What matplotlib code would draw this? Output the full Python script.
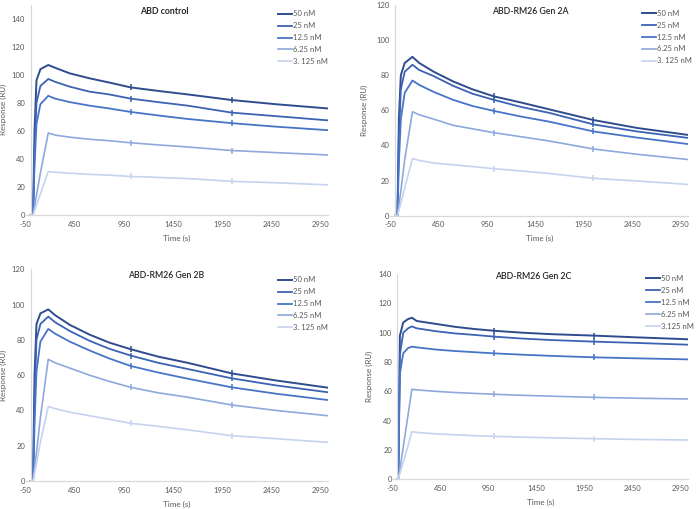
import matplotlib.pyplot as plt

plt.rcParams['axes.unicode_minus'] = False

# ---------------------------------------------------------
# data (time in s, response in RU)
# ---------------------------------------------------------
time_ab = [0, 25, 40, 60, 100, 180, 250, 400, 600, 800, 1020, 1300, 1600, 2050, 2500, 3030]
time_2c = [0, 8, 25, 60, 110, 150, 200, 400, 600, 800, 1010, 1300, 1600, 2050, 2500, 3030]

labels = ['50 nM', '25 nM', '12.5 nM', '6.25 nM', '3. 125 nM']
labels_2c = ['50 nM', '25 nM', '12.5 nM', '6.25 nM', '3.125 nM']

ctrl_50 = [0, 0, 60, 96, 104, 107, 105, 101, 97.5, 94.5, 91, 88.5, 86, 82, 79, 76]
ctrl_25 = [0, 0, 45, 80, 92, 97, 95, 91.5, 88, 86, 83, 80.5, 78, 73, 70.5, 67.5]
ctrl_12 = [0, 0, 35, 65, 79, 85, 83, 80.5, 78, 76, 73.5, 71, 68.5, 65.5, 63, 60.5]
ctrl_6 = [0, 0, 6, 14, 30, 58.5, 57, 55.5, 54, 53, 51.5, 50, 48.5, 46, 44.5, 42.8]
ctrl_3 = [0, 0, 3, 7, 15, 31, 30.5, 29.8, 29, 28.4, 27.5, 26.8, 26, 24, 23, 21.5]

g2a_50 = [0, 0, 55, 80, 87, 90.5, 87, 82, 76.5, 72, 68, 64.5, 60.5, 54.5, 50, 46]
g2a_25 = [0, 0, 45, 72, 82, 86, 83, 79.5, 74, 69.5, 66, 62, 58.5, 52, 48, 44.3]
g2a_12 = [0, 0, 30, 55, 70, 77, 74.5, 70.5, 66, 62.5, 59.7, 56.5, 53.5, 48, 44.5, 40.8]
g2a_6 = [0, 0, 6, 14, 32, 59.2, 57.5, 55, 51.5, 49.5, 47.3, 45, 42.5, 38, 35, 32]
g2a_3 = [0, 0, 3, 7, 16, 32.5, 31.5, 30, 29, 28, 26.8, 25.5, 24, 21.3, 19.8, 17.8]

g2b_50 = [0, 0, 60, 89, 95, 97.3, 94, 88.5, 83, 78.5, 74.7, 70.5, 67, 61, 57, 52.9]
g2b_25 = [0, 0, 45, 80, 89, 93.2, 90, 85, 79.5, 75, 71.1, 67, 63.5, 58.2, 54.2, 50.3]
g2b_12 = [0, 0, 32, 62, 79, 86.2, 83.5, 79, 74, 69.5, 65.2, 61.5, 58, 53.1, 49.5, 45.9]
g2b_6 = [0, 0, 7, 16, 36, 69, 67, 64, 60, 56.5, 53.1, 50, 47.5, 43.1, 40, 37]
g2b_3 = [0, 0, 4, 10, 22, 42.2, 41, 39, 37, 35, 32.7, 31, 29, 25.7, 24, 21.9]

g2c_50 = [0, 0, 98, 107, 109.3, 110.2, 108, 106, 104, 102.5, 101.3, 100, 99, 98, 96.8, 95.5]
g2c_25 = [0, 0, 85, 100, 103, 104.3, 103, 101, 99.5, 98.5, 97.3, 96, 95, 93.9, 93, 91.8]
g2c_12 = [0, 0, 72, 86, 89.5, 90.5, 90, 88.5, 87.5, 86.7, 85.9, 85, 84.2, 83.2, 82.5, 81.8]
g2c_6 = [0, 0, 7, 22, 44, 61.4, 61, 60, 59.2, 58.6, 58, 57.3, 56.7, 55.9, 55.3, 54.8]
g2c_3 = [0, 0, 4, 11.5, 23, 32.5, 32, 31, 30.4, 29.8, 29.3, 28.8, 28.3, 27.7, 27.2, 26.8]

# small vertical marks drawn on every curve (index into the time lists)
mark_idx = [10, 13]

colors = ['#2F4D8E', '#3B62B3', '#4874C8', '#8EA8DC', '#C6D3EF']
widths = [1.4, 1.3, 1.3, 1.2, 1.2]

FONT = 'Lato'
TXT = '#595959'

# panel settings: axes rect (fig fraction), y max, title pos, legend anchor (px)
panels = [
    dict(title='ABD control', t=time_ab, ys=[ctrl_50, ctrl_25, ctrl_12, ctrl_6, ctrl_3],
         labels=labels, rect=[0.0369, 0.5776, 0.4343, 0.4132], ymax=150,
         title_xy=(164.7, 11), bold=True, leg=(278, 10.5), ylab_x=-0.062),
    dict(title='ABD-RM26 Gen 2A', t=time_ab, ys=[g2a_50, g2a_25, g2a_12, g2a_6, g2a_3],
         labels=labels, rect=[0.5606, 0.5762, 0.4283, 0.4139], ymax=120,
         title_xy=(530, 11.7), bold=False, leg=(641.7, 9.8), ylab_x=-0.0745),
    dict(title='ABD-RM26 Gen 2B', t=time_ab, ys=[g2b_50, g2b_25, g2b_12, g2b_6, g2b_3],
         labels=labels, rect=[0.0369, 0.0550, 0.4343, 0.4159], ymax=120,
         title_xy=(165.7, 275), bold=False, leg=(278, 276.5), ylab_x=-0.062),
    dict(title='ABD-RM26 Gen 2C', t=time_2c, ys=[g2c_50, g2c_25, g2c_12, g2c_6, g2c_3],
         labels=labels_2c, rect=[0.5642, 0.0583, 0.4249, 0.4033], ymax=140,
         title_xy=(533.3, 276.7), bold=False, leg=(646, 275), ylab_x=-0.0676),
]

W, H = 696, 509
fig = plt.figure(figsize=(W / 100, H / 100), dpi=100)

for p in panels:
    ax = fig.add_axes(p['rect'])
    for y, lab, c, lw in zip(p['ys'], p['labels'], colors, widths):
        ax.plot(p['t'], y, color=c, lw=lw, label=lab)
        ax.plot([p['t'][i] for i in mark_idx], [y[i] for i in mark_idx],
                linestyle='none', marker='|', color=c,
                markersize=4.5, markeredgewidth=1.1)

    ax.set_xlim(-50, 3030)
    ax.set_ylim(0, p['ymax'])
    ax.set_xticks(range(-50, 3000, 500))
    ax.set_yticks(range(0, p['ymax'] if p['ymax'] % 20 else p['ymax'] + 1, 20))

    # Excel style: vertical axis crosses at x = 0
    ax.spines['left'].set_position(('data', 0))
    for s in ['top', 'right']:
        ax.spines[s].set_visible(False)
    for s in ['left', 'bottom']:
        ax.spines[s].set_color('#D9D9D9')
        ax.spines[s].set_linewidth(0.9)

    ax.tick_params(length=0, labelsize=5.5, labelcolor=TXT, pad=4)
    for lbl in ax.get_xticklabels() + ax.get_yticklabels():
        lbl.set_fontfamily(FONT)

    ax.set_xlabel('Time (s)', fontsize=5.8, color=TXT, family=FONT)
    ax.set_ylabel('Response (RU)', fontsize=5.8, color=TXT, family=FONT)
    ax.xaxis.set_label_coords(0.5, -19.5 / (p['rect'][3] * H))
    ax.yaxis.set_label_coords(p['ylab_x'], 0.5)

    fig.text(p['title_xy'][0] / W, 1 - p['title_xy'][1] / H, p['title'],
             ha='center', va='center', fontsize=6.3, family=FONT,
             fontweight='bold' if p['bold'] else 'semibold', color='#262626')

    ax.legend(loc='upper left', bbox_to_anchor=(p['leg'][0] / W, 1 - p['leg'][1] / H),
              bbox_transform=fig.transFigure, frameon=False, borderpad=0,
              borderaxespad=0, handlelength=1.85, handletextpad=0.15,
              labelspacing=0.64, prop={'family': FONT, 'size': 5.5},
              labelcolor=TXT)

fig.savefig('out.png', dpi=100)
